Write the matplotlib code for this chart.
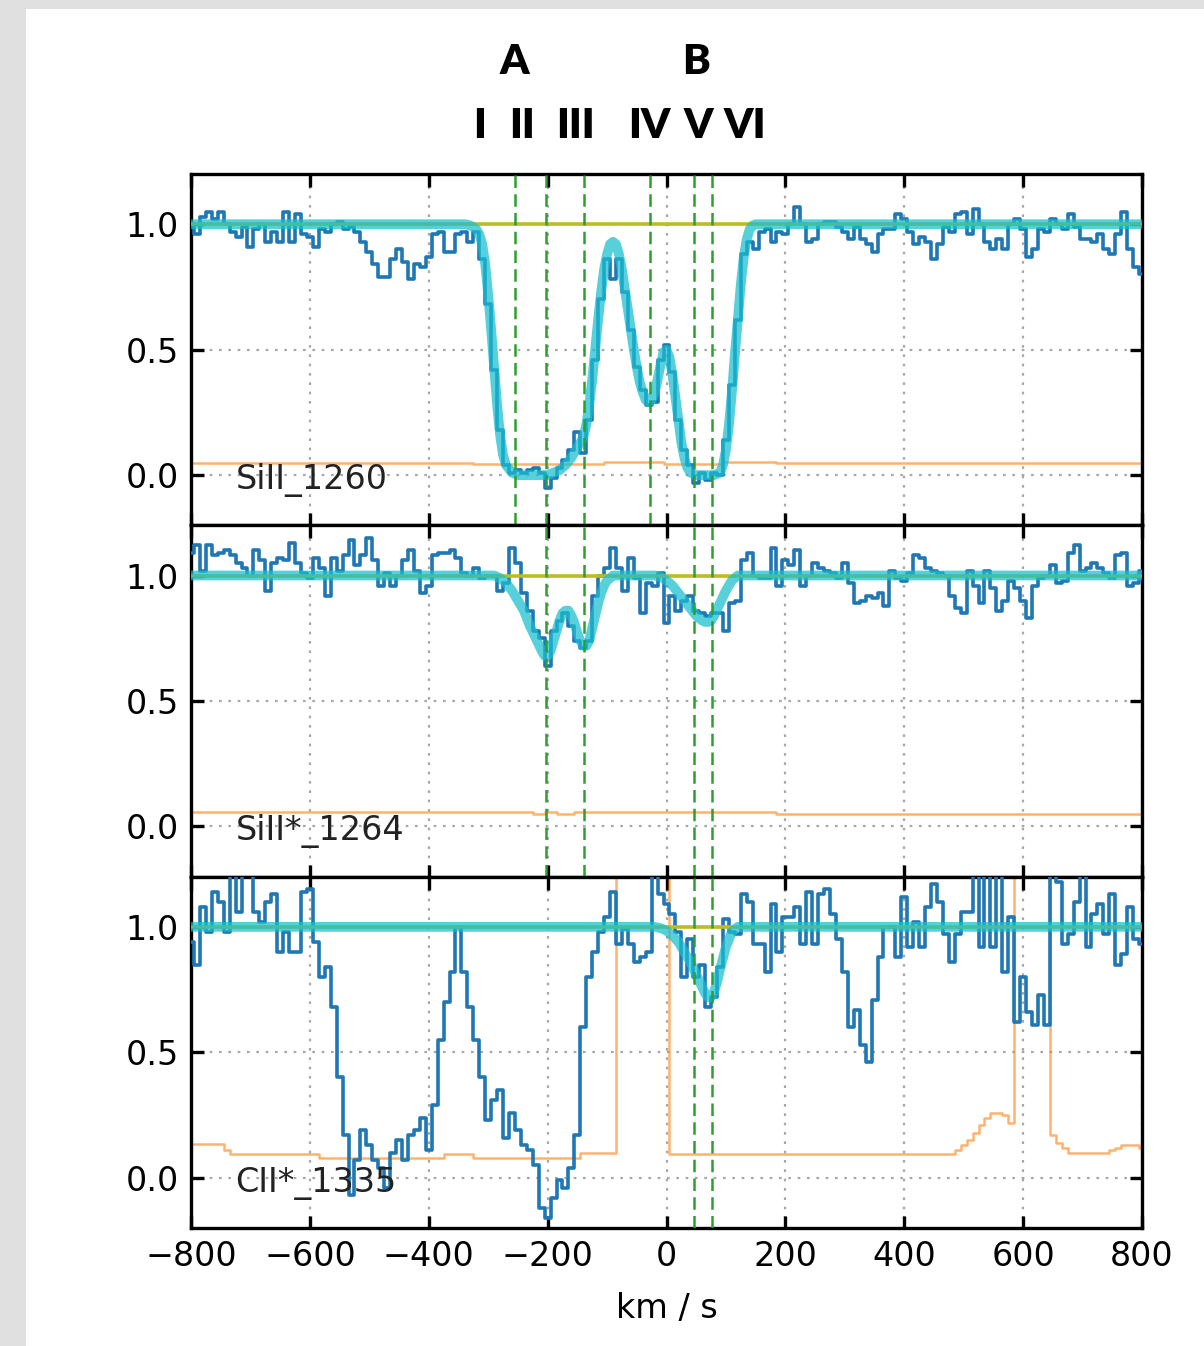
import numpy as np
import matplotlib
matplotlib.use("Agg")
import matplotlib.pyplot as plt
from matplotlib.patches import Rectangle
from matplotlib.transforms import blended_transform_factory

# ---------------------------------------------------------------- data
# velocity grid (km/s), 10 km/s pixels from -800 to 800
v_start, v_step = -800, 10

flux_si1260 = [
    1.00, 0.96, 1.03, 1.05, 1.02, 1.05, 1.00, 0.97, 0.95, 0.99,
    0.91, 0.98, 1.00, 0.93, 0.97, 0.93, 1.05, 0.93, 1.04, 0.96,
    0.95, 0.91, 0.98, 0.97, 1.00, 1.01, 0.98, 0.99, 0.97, 0.93,
    0.89, 0.84, 0.79, 0.79, 0.86, 0.90, 0.85, 0.78, 0.84, 0.83,
    0.87, 0.96, 0.97, 0.89, 0.89, 0.96, 0.97, 0.93, 0.97, 0.86,
    0.68, 0.42, 0.18, 0.04, 0.01, 0.02, 0.01, 0.02, 0.03, 0.01,
    -0.05, -0.01, 0.03, 0.06, 0.10, 0.17, 0.09, 0.22, 0.46, 0.70,
    0.86, 0.78, 0.86, 0.73, 0.58, 0.43, 0.34, 0.28, 0.29, 0.46,
    0.52, 0.41, 0.22, 0.10, 0.04, -0.03, 0.01, -0.02, 0.01, 0.00,
    0.14, 0.36, 0.62, 0.88, 0.93, 0.90, 0.97, 0.98, 0.93, 0.97,
    0.96, 1.00, 1.07, 1.00, 0.93, 0.94, 1.00, 1.01, 1.01, 0.99,
    0.97, 0.94, 0.99, 0.94, 0.92, 0.89, 0.96, 0.98, 0.98, 1.04,
    1.02, 0.97, 0.92, 0.95, 0.93, 0.86, 0.92, 0.99, 0.97, 1.04,
    1.05, 0.96, 1.06, 1.00, 0.93, 0.90, 0.94, 0.90, 1.00, 1.02,
    0.98, 0.87, 0.90, 0.98, 0.97, 1.02, 1.00, 0.98, 1.04, 0.99,
    0.94, 0.94, 0.93, 0.96, 0.90, 0.88, 0.96, 1.05, 0.90, 0.83,
    0.80,
]

flux_si1264 = [
    1.09, 1.12, 1.02, 1.12, 1.08, 1.09, 1.10, 1.08, 1.05, 1.03,
    1.00, 1.10, 1.06, 0.94, 1.05, 1.07, 1.06, 1.13, 1.05, 1.01,
    0.99, 1.07, 1.03, 0.92, 1.07, 1.02, 1.08, 1.14, 1.04, 1.08,
    1.15, 1.06, 0.96, 1.01, 0.96, 1.00, 1.06, 1.10, 1.02, 0.93,
    0.96, 1.08, 1.09, 1.09, 1.10, 1.07, 1.01, 1.00, 1.03, 0.99,
    1.00, 1.00, 0.94, 0.97, 1.11, 1.05, 0.93, 0.86, 0.78, 0.75,
    0.64, 0.78, 0.82, 0.85, 0.80, 0.74, 0.71, 0.74, 0.92, 1.00,
    1.03, 1.11, 1.03, 0.94, 1.07, 0.99, 0.85, 0.97, 0.96, 1.01,
    0.81, 0.92, 0.86, 0.90, 0.92, 0.86, 0.85, 0.84, 0.85, 0.85,
    0.78, 0.89, 0.90, 1.06, 1.09, 1.00, 0.99, 0.99, 1.11, 0.96,
    1.06, 1.04, 1.10, 0.96, 1.00, 1.05, 1.03, 1.02, 1.01, 0.99,
    1.05, 0.97, 0.89, 0.90, 0.92, 0.91, 0.93, 0.88, 1.02, 0.99,
    0.98, 1.01, 1.08, 1.07, 1.03, 1.02, 1.01, 1.00, 0.92, 0.87,
    0.85, 1.02, 0.96, 0.89, 1.02, 0.95, 0.86, 0.90, 0.98, 0.95,
    0.90, 0.83, 0.96, 0.99, 1.00, 1.04, 0.97, 0.98, 1.09, 1.12,
    1.02, 1.03, 1.05, 1.03, 1.01, 0.99, 1.08, 1.09, 0.96, 0.97,
    1.02,
]

flux_c1335 = [
    0.94, 0.85, 1.08, 0.98, 1.14, 1.10, 0.98, 1.22, 1.06, 1.22,
    1.22, 1.06, 1.02, 1.10, 1.13, 0.90, 0.98, 0.90, 0.90, 1.14,
    1.15, 0.94, 0.80, 0.84, 0.68, 0.40, 0.17, -0.07, 0.07, 0.19,
    0.13, 0.07, 0.04, -0.04, 0.10, 0.15, 0.07, 0.17, 0.19, 0.24,
    0.11, 0.29, 0.55, 0.70, 0.82, 1.00, 0.82, 0.68, 0.55, 0.40,
    0.23, 0.31, 0.35, 0.16, 0.26, 0.19, 0.13, 0.11, 0.05, -0.12,
    -0.16, -0.08, -0.01, -0.04, 0.04, 0.17, 0.60, 0.80, 0.90, 0.98,
    1.04, 1.14, 0.93, 0.99, 0.93, 0.86, 0.88, 0.90, 1.22, 1.13,
    1.09, 1.05, 0.98, 0.80, 0.95, 0.80, 0.85, 0.68, 0.72, 0.84,
    1.03, 0.98, 0.97, 1.13, 1.10, 0.93, 0.93, 0.82, 1.09, 0.90,
    1.04, 1.04, 1.08, 0.93, 1.14, 0.93, 1.13, 1.15, 1.05, 0.95,
    0.82, 0.60, 0.67, 0.53, 0.46, 0.71, 0.88, 1.00, 1.00, 0.88,
    1.12, 0.92, 1.02, 0.92, 1.08, 1.17, 1.10, 0.97, 0.86, 0.97,
    1.06, 1.06, 1.22, 0.92, 1.22, 0.92, 1.22, 0.82, 1.04, 0.62,
    0.80, 0.66, 0.61, 0.73, 0.61, 1.22, 1.18, 0.93, 0.97, 1.10,
    1.22, 0.92, 1.05, 1.09, 0.97, 1.13, 0.85, 0.89, 1.08, 0.95,
    0.93,
]

# 1-sigma flux errors on the same grid
err_si1260 = ([0.048] * 48 + [0.046] * 22 + [0.052] * 10 + [0.046] * 10
              + [0.054] * 9 + [0.048] * 62)
err_si1264 = ([0.056] * 58 + [0.050] * 2 + [0.056] * 2 + [0.050] * 3
              + [0.056] * 34 + [0.049] * 62)
err_c1335 = ([0.135] * 6 + [0.11] + [0.093] * 15 + [0.08] * 21 + [0.093] * 5
             + [0.08] * 18 + [0.10] * 6 + [1.6] * 9
             + [0.095] * 48
             + [0.11, 0.13, 0.15, 0.18, 0.21, 0.24, 0.26, 0.26, 0.25, 0.22]
             + [1.6] * 6 + [0.17, 0.14, 0.12] + [0.10] * 7
             + [0.11, 0.12, 0.13, 0.13, 0.13, 0.12])

# fitted absorption models
model_v_si1260 = [-800, -340, -330, -320, -315, -310, -305, -300, -295, -290,
                  -285, -280, -275, -270, -260, -250, -240, -230, -220, -210,
                  -200, -190, -180, -170, -160, -150, -145, -140, -135, -130,
                  -125, -120, -115, -110, -105, -100, -95, -90, -85, -80,
                  -75, -70, -65, -60, -55, -50, -45, -40, -35, -30,
                  -25, -20, -15, -10, -5, 0, 5, 10, 15, 20,
                  25, 30, 35, 40, 50, 60, 70, 80, 90, 95,
                  100, 105, 110, 115, 120, 125, 130, 135, 140, 145,
                  150, 800]
model_f_si1260 = [1.0, 1.0, 0.995, 0.98, 0.96, 0.92, 0.84, 0.72, 0.58, 0.43,
                  0.28, 0.16, 0.08, 0.04, 0.01, 0.0, 0.0, 0.0, 0.0, 0.0,
                  0.0, 0.01, 0.02, 0.04, 0.07, 0.11, 0.13, 0.15, 0.20, 0.28,
                  0.38, 0.50, 0.62, 0.73, 0.82, 0.88, 0.92, 0.93, 0.92, 0.88,
                  0.82, 0.74, 0.66, 0.58, 0.50, 0.43, 0.37, 0.33, 0.30, 0.29,
                  0.30, 0.33, 0.38, 0.44, 0.49, 0.50, 0.47, 0.40, 0.31, 0.22,
                  0.13, 0.07, 0.03, 0.01, 0.0, 0.0, 0.0, 0.0, 0.01, 0.04,
                  0.10, 0.20, 0.33, 0.48, 0.62, 0.76, 0.87, 0.94, 0.98, 0.995,
                  1.0, 1.0]

model_v_si1264 = [-800, -290, -280, -270, -260, -250, -240, -230, -220, -210,
                  -205, -200, -195, -190, -185, -180, -175, -170, -165, -160,
                  -155, -150, -145, -140, -135, -130, -125, -120, -115, -110,
                  -105, -100, -95, -90, -20, -10, 0, 10, 20, 30,
                  40, 50, 60, 65, 70, 75, 80, 90, 100, 110,
                  120, 800]
model_f_si1264 = [1.0, 1.0, 0.99, 0.97, 0.94, 0.90, 0.86, 0.80, 0.75, 0.70,
                  0.68, 0.68, 0.70, 0.74, 0.78, 0.82, 0.85, 0.86, 0.86, 0.84,
                  0.81, 0.77, 0.74, 0.72, 0.72, 0.74, 0.79, 0.84, 0.89, 0.93,
                  0.96, 0.98, 0.99, 1.0, 1.0, 0.995, 0.98, 0.96, 0.93, 0.90,
                  0.87, 0.84, 0.82, 0.815, 0.815, 0.82, 0.84, 0.89, 0.94, 0.98,
                  1.0, 1.0]

model_v_c1335 = [-800, -20, -10, 0, 10, 20, 30, 40, 50, 60,
                 65, 70, 75, 80, 85, 90, 100, 110, 120, 800]
model_f_c1335 = [1.0, 1.0, 0.995, 0.985, 0.965, 0.94, 0.90, 0.86, 0.81, 0.76,
                 0.735, 0.72, 0.72, 0.74, 0.78, 0.83, 0.92, 0.98, 1.0, 1.0]

# component centroids (km/s) marked in each transition
comp_si1260 = [-255, -202, -138, -27, 47, 76]
comp_si1264 = [-202, -138, 47, 76]
comp_c1335 = [47, 76]

line_names = ["SiII_1260", "SiII*_1264", "CII*_1335"]
x_ticks = [-800, -600, -400, -200, 0, 200, 400, 600, 800]
y_ticks = [0.0, 0.5, 1.0]

groups = ["A", "B"]
groups_v = [-256, 50]
components = ["I", "II", "III", "IV", "V", "VI"]
components_v = [-314, -243, -153, -29, 53, 132]

for arr in (flux_si1260, flux_si1264, flux_c1335,
            err_si1260, err_si1264, err_c1335):
    assert len(arr) == 161, len(arr)

# ---------------------------------------------------------------- style
TICK_FS = 24
C_FLUX = "#1f77b4"
C_ERR = "#ff7f0e"
C_CONT = "#bcbd22"
C_MODEL = "#17becf"
C_COMP = "#2ca02c"

fig = plt.figure(figsize=(12.04, 13.46), dpi=100)
fig.patch.set_facecolor("#e0e0e0")
fig.add_artist(Rectangle((26 / 1204, 0), 1 - 26 / 1204, 1 - 9 / 1346,
                         transform=fig.transFigure, facecolor="white",
                         edgecolor="none", zorder=-5))

left, width = 191 / 1204, 951 / 1204
bottom0 = 1 - 1228 / 1346
top0 = 1 - 174 / 1346
h = (top0 - bottom0) / 3

panels = [
    (flux_si1260, err_si1260, model_v_si1260, model_f_si1260, comp_si1260),
    (flux_si1264, err_si1264, model_v_si1264, model_f_si1264, comp_si1264),
    (flux_c1335, err_c1335, model_v_c1335, model_f_c1335, comp_c1335),
]

axes = []
for i, (flux, err, mv, mf, comps) in enumerate(panels):
    ax = fig.add_axes([left, bottom0 + (2 - i) * h, width, h])
    axes.append(ax)
    v = v_start + v_step * np.arange(len(flux))

    ax.plot(v, err, drawstyle="steps-mid", color=C_ERR, lw=1.8,
            alpha=0.6, zorder=2)
    ax.plot(v, flux, drawstyle="steps-mid", color=C_FLUX, lw=2.6, zorder=3)
    ax.axhline(1.0, color=C_CONT, lw=2.6, zorder=4)
    ax.plot(mv, mf, color=C_MODEL, lw=7, alpha=0.72, zorder=5,
            solid_capstyle="round", solid_joinstyle="round")
    for c in comps:
        ax.axvline(c, color=C_COMP, lw=1.8, ls=(0, (5, 2.5)), zorder=6)

    ax.text(-725, -0.055, line_names[i], fontsize=TICK_FS, color="#222222",
            va="baseline", ha="left", zorder=7)

    ax.set_xlim(-800, 800)
    ax.set_ylim(-0.2, 1.2)
    ax.set_xticks(x_ticks)
    ax.set_yticks(y_ticks)
    ax.set_yticklabels([f"{t:.1f}" for t in y_ticks])
    ax.grid(True, color="#a8a8a8", lw=1.6, ls=(0, (1.2, 3)), zorder=0)
    ax.tick_params(direction="in", top=True, right=True, length=9, width=2.4,
                   labelsize=TICK_FS, pad=9, colors="black")
    for sp in ax.spines.values():
        sp.set_linewidth(2.4)
    if i < 2:
        ax.tick_params(labelbottom=False)
    else:
        ax.set_xticklabels([f"{t}".replace("-", "\u2212") for t in x_ticks])
        ax.set_xlabel("km / s", fontsize=TICK_FS, labelpad=13)

# component and group labels above the top panel
tr = blended_transform_factory(axes[0].transData, axes[0].transAxes)
for name, vv in zip(groups, groups_v):
    axes[0].text(vv, 1.319, name, transform=tr, ha="center", va="center",
                 fontsize=30, fontweight="heavy", family="Lato", clip_on=False)
for name, vv in zip(components, components_v):
    axes[0].text(vv, 1.137, name, transform=tr, ha="center", va="center",
                 fontsize=30, fontweight="heavy", family="Lato", clip_on=False)

fig.savefig("out.png", dpi=100, facecolor=fig.get_facecolor())
